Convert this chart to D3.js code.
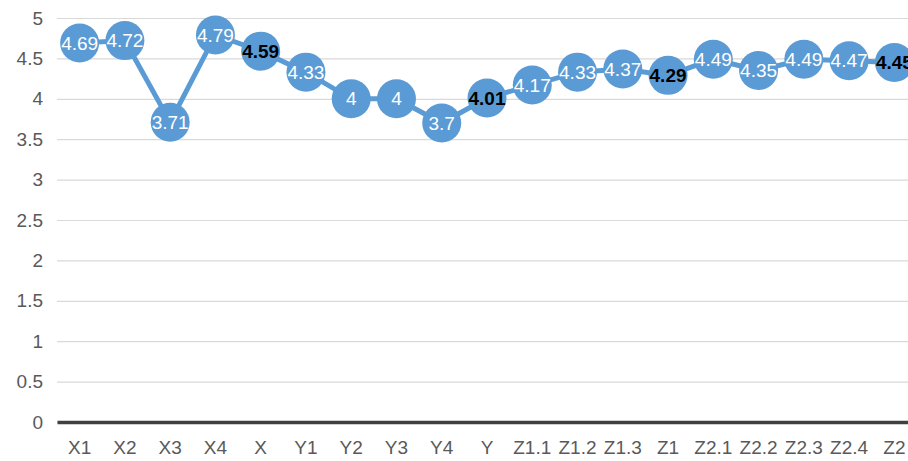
<!DOCTYPE html>
<html>
<head>
<meta charset="utf-8">
<script src="https://cdn.jsdelivr.net/npm/d3@7"></script>
<style>
  html, body { margin: 0; padding: 0; background: #fff; overflow: hidden; }
  text { font-family: 'Liberation Sans', Arial, sans-serif; }
</style>
</head>
<body>
<script>
  const categories = ['X1', 'X2', 'X3', 'X4', 'X', 'Y1', 'Y2', 'Y3', 'Y4', 'Y',
    'Z1.1', 'Z1.2', 'Z1.3', 'Z1', 'Z2.1', 'Z2.2', 'Z2.3', 'Z2.4', 'Z2'];
  const values = [4.69, 4.72, 3.71, 4.79, 4.59, 4.33, 4, 4, 3.7, 4.01,
    4.17, 4.33, 4.37, 4.29, 4.49, 4.35, 4.49, 4.47, 4.45];
  // group totals get bold black labels
  const totals = ['X', 'Y', 'Z1', 'Z2'];
  const yTicks = [0, 0.5, 1, 1.5, 2, 2.5, 3, 3.5, 4, 4.5, 5];

  const width = 908;
  const height = 461;
  const margin = { top: 18, right: -9, bottom: 39, left: 57 };
  const innerWidth = width - margin.left - margin.right;
  const innerHeight = height - margin.top - margin.bottom;

  const data = categories.map((c, i) => ({ cat: c, value: values[i] }));

  const xScale = d3.scaleBand().domain(categories).range([0, innerWidth]);
  const yScale = d3.scaleLinear().domain([0, 5]).range([innerHeight, 0]);

  const svg = d3.select('body')
    .append('svg')
    .attr('width', width)
    .attr('height', height);

  const g = svg.append('g')
    .attr('transform', `translate(${margin.left},${margin.top})`);

  // gridlines + y labels
  const yAxis = g.append('g')
    .call(d3.axisLeft(yScale).tickValues(yTicks).tickSize(-innerWidth).tickPadding(14)
      .tickFormat(d3.format('')));
  yAxis.select('.domain').remove();
  yAxis.selectAll('line').attr('stroke', '#d9d9d9').attr('stroke-width', 1.2);
  yAxis.selectAll('text')
    .attr('fill', '#595959')
    .style('font-size', '19px');

  // x axis
  const xAxis = g.append('g')
    .attr('transform', `translate(0,${innerHeight})`)
    .call(d3.axisBottom(xScale).tickSize(0).tickPadding(19));
  xAxis.select('.domain').attr('stroke', '#404040').attr('stroke-width', 3.5);
  xAxis.selectAll('text')
    .attr('fill', '#595959')
    .style('font-size', '19px');

  const cx = (d) => xScale(d.cat) + xScale.bandwidth() / 2;
  const cy = (d) => yScale(d.value);

  const line = d3.line().x(cx).y(cy);

  g.append('path')
    .datum(data)
    .attr('d', line)
    .attr('fill', 'none')
    .attr('stroke', '#5b9bd5')
    .attr('stroke-width', 5);

  g.append('g')
    .selectAll('circle')
    .data(data)
    .enter()
    .append('circle')
    .attr('cx', cx)
    .attr('cy', cy)
    .attr('r', 19.5)
    .attr('fill', '#5b9bd5');

  g.append('g')
    .selectAll('text')
    .data(data)
    .enter()
    .append('text')
    .attr('x', cx)
    .attr('y', cy)
    .attr('dy', '0.35em')
    .attr('text-anchor', 'middle')
    .style('font-size', '19px')
    .style('font-weight', (d) => totals.includes(d.cat) ? 'bold' : 'normal')
    .attr('fill', (d) => totals.includes(d.cat) ? '#000' : '#fff')
    .text((d) => d.value);
</script>
</body>
</html>
